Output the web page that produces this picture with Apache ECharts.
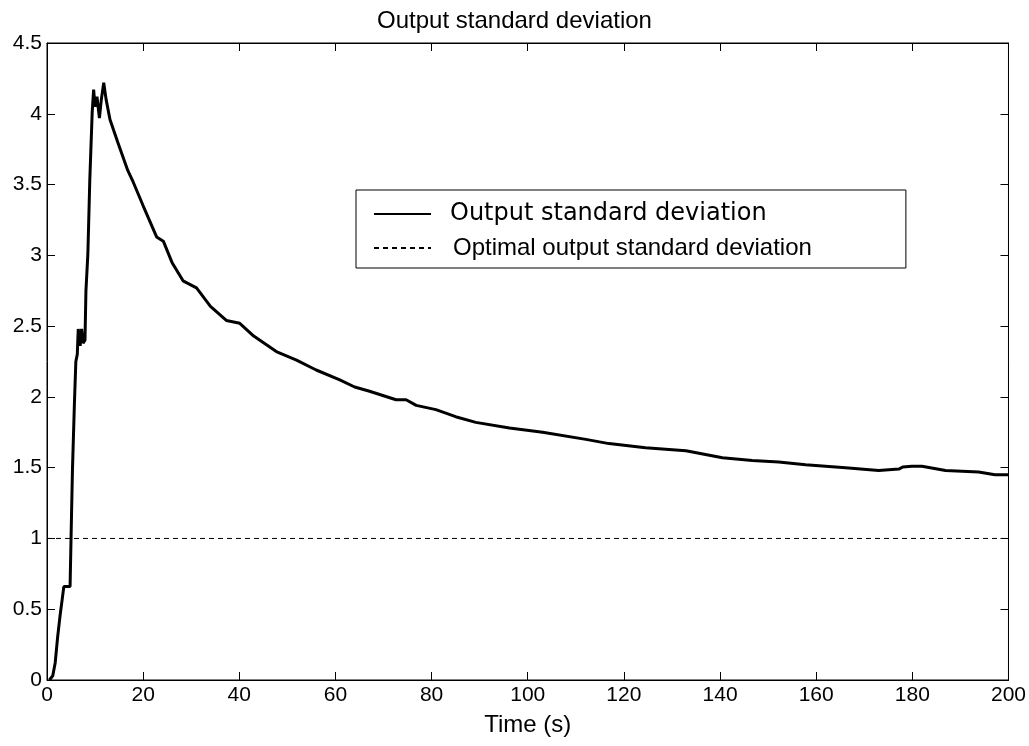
<!DOCTYPE html>
<html>
<head>
<meta charset="utf-8">
<script src="https://cdn.jsdelivr.net/npm/echarts@6/dist/echarts.min.js"></script>
<style>html,body{margin:0;padding:0;background:#fff;}#c{width:1029px;height:746px;}</style>
</head>
<body>
<div id="c"></div>
<script>
const titleText = 'Output standard deviation';
const xAxisName = 'Time (s)';
const seriesNames = ['Output standard deviation', 'Optimal output standard deviation'];
const timeS = [0.5, 1.2, 1.7, 2.2, 2.7, 3.2, 3.5, 4.8, 5.0, 5.3, 5.7, 6.0, 6.3, 6.5, 6.9, 7.2, 7.5, 7.9, 8.1, 8.5, 8.9, 9.4, 9.7, 10.0, 10.4, 10.9, 11.3, 11.8, 12.3, 13.1, 14.7, 16.8, 17.9, 20.0, 22.8, 24.2, 26.0, 28.3, 31.1, 34.0, 37.3, 40.1, 43.0, 47.7, 51.9, 56.0, 60.9, 64.0, 67.1, 72.6, 74.7, 76.8, 80.9, 85.0, 89.2, 96.2, 103.1, 112.1, 116.9, 124.5, 132.9, 140.5, 146.7, 152.2, 157.8, 166.1, 173.0, 177.2, 178.0, 179.9, 182.0, 186.9, 193.8, 197.2, 200.0];
const outputStd = [0, 0.03, 0.12, 0.30, 0.45, 0.58, 0.66, 0.66, 1.00, 1.49, 1.95, 2.25, 2.30, 2.48, 2.36, 2.48, 2.38, 2.40, 2.75, 3.01, 3.53, 4.01, 4.17, 4.05, 4.12, 3.97, 4.10, 4.22, 4.10, 3.96, 3.80, 3.60, 3.52, 3.35, 3.13, 3.10, 2.95, 2.82, 2.77, 2.64, 2.54, 2.52, 2.43, 2.32, 2.26, 2.19, 2.12, 2.07, 2.04, 1.98, 1.98, 1.94, 1.91, 1.86, 1.82, 1.78, 1.75, 1.70, 1.67, 1.64, 1.62, 1.57, 1.55, 1.54, 1.52, 1.50, 1.48, 1.49, 1.505, 1.51, 1.51, 1.48, 1.47, 1.45, 1.45];
const optimalTime = [0, 200];
const optimalStd = [1, 1];

const chart = echarts.init(document.getElementById('c'));
const font = 'Liberation Sans, Arial, sans-serif';
function axisBase() {
  return {
    type: 'value', min: 0,
    axisLine: {show: true, onZero: false, lineStyle: {color: '#000', width: 1}},
    axisTick: {show: true, inside: true, length: 8, lineStyle: {color: '#000', width: 1}},
    splitLine: {show: false}
  };
}
chart.setOption({
  animation: false,
  backgroundColor: '#fff',
  title: {text: titleText, left: 'center', top: 4, textStyle: {fontFamily: font, fontSize: 24, fontWeight: 'normal', color: '#000'}},
  grid: {left: 47, right: 19, top: 43, bottom: 66, show: true, borderColor: '#000', borderWidth: 1, backgroundColor: 'transparent'},
  legend: {
    orient: 'vertical', left: 356, top: 190,
    backgroundColor: '#fff', borderColor: '#000', borderWidth: 1, borderRadius: 0,
    padding: [12, 94, 8, 17], itemWidth: 57, itemHeight: 24, itemGap: 10,
    data: seriesNames,
    itemStyle: {opacity: 0},
    formatter: function (n) { return n === seriesNames[0] ? '{a|' + n + '}' : '{b|' + n + '}'; },
    textStyle: {
      color: '#000',
      rich: {
        a: {fontFamily: 'DejaVu Sans', fontSize: 24, color: '#000', padding: [0, 0, 0, 14]},
        b: {fontFamily: font, fontSize: 24, color: '#000', padding: [0, 0, 0, 17]}
      }
    }
  },
  xAxis: [
    Object.assign(axisBase(), {max: 200, interval: 20, position: 'bottom',
      name: xAxisName, nameLocation: 'middle', nameGap: 33,
      nameTextStyle: {fontFamily: font, fontSize: 24, color: '#000'},
      axisLabel: {fontFamily: font, fontSize: 21, color: '#000', margin: 5}}),
    Object.assign(axisBase(), {max: 200, interval: 20, position: 'top', axisLabel: {show: false}})
  ],
  yAxis: [
    Object.assign(axisBase(), {max: 4.5, interval: 0.5, position: 'left',
      axisLabel: {fontFamily: font, fontSize: 21, color: '#000', margin: 5}}),
    Object.assign(axisBase(), {max: 4.5, interval: 0.5, position: 'right', axisLabel: {show: false}})
  ],
  series: [
    {
      name: seriesNames[0], type: 'line', symbol: 'none', showSymbol: false,
      xAxisIndex: 0, yAxisIndex: 0,
      data: timeS.map((t, i) => [t, outputStd[i]]),
      lineStyle: {color: '#000', width: 3},
      itemStyle: {color: '#000'}
    },
    {
      name: seriesNames[1], type: 'line', symbol: 'none', showSymbol: false,
      xAxisIndex: 1, yAxisIndex: 1,
      data: optimalTime.map((t, i) => [t, optimalStd[i]]),
      lineStyle: {color: '#000', width: 1, type: [5, 4]},
      itemStyle: {color: '#000'}
    }
  ]
});
</script>
</body>
</html>
